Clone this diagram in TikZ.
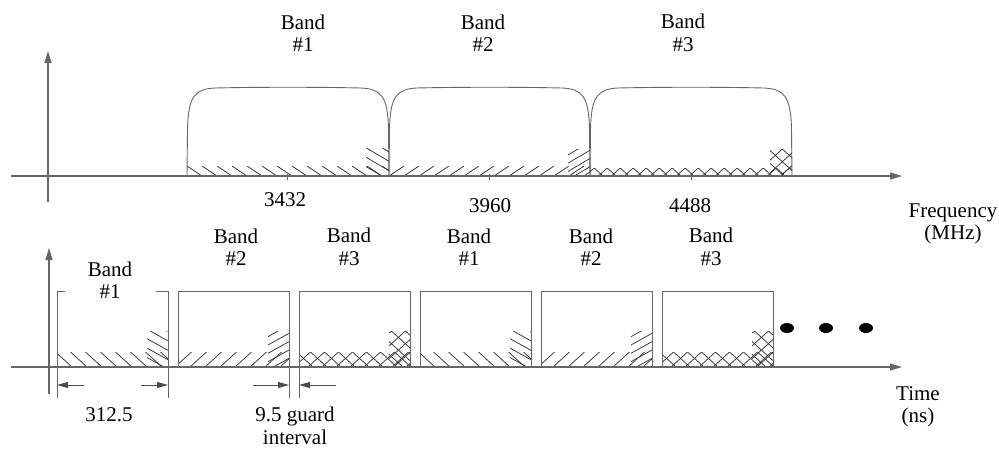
\documentclass[tikz,border=0pt]{standalone}
\usepackage{fontspec}
\setmainfont{Liberation Serif}
\usetikzlibrary{arrows.meta}

\tikzset{
  axisline/.style={draw=black!60, line width=1.1pt},
  frameline/.style={draw=black!60, line width=1pt},
  hatchline/.style={draw=black!80, line width=0.75pt},
  lbl/.style={inner sep=0pt, align=center, text=black,
    font=\fontsize{21}{22.5}\selectfont},
  axisarrow/.style={-{Triangle[length=12pt,width=7pt]}},
  dimarrow/.style={-{Triangle[length=11pt,width=6pt]}, draw=black!70, line width=1pt},
  tickline/.style={draw=black!60, line width=1pt},
}

% parallel hatch lines clipped to a rectangle
% #1 left, #2 top, #3 right, #4 bottom, #5 spacing, #6 dx/dy (>0: "\", <0: "/")
\newcommand{\hatchfill}[6]{%
  \begin{scope}
    \clip (#1,#2) rectangle (#3,#4);
    \pgfmathsetmacro{\hh}{#4-#2}
    \pgfmathsetmacro{\ww}{abs(#6)*\hh}
    \pgfmathtruncatemacro{\nn}{(#3-#1+2*\ww)/#5+1}
    \foreach \i in {0,...,\nn}{
      \pgfmathsetmacro{\uu}{#1-\ww+\i*#5}
      \draw[hatchline] (\uu,#2) -- ++(#6*\hh,\hh);
    }
  \end{scope}}
\newcommand{\crossfill}[5]{%
  \hatchfill{#1}{#2}{#3}{#4}{#5}{1.1}%
  \hatchfill{#1}{#2}{#3}{#4}{#5}{-1.1}}

% hatching of one time slot (left edge #1), by band
\newcommand{\slotA}[1]{%
  \hatchfill{#1}{352}{#1+111}{367}{15}{1.1}%
  \hatchfill{#1+90}{331}{#1+111}{367}{17}{1.8}}
\newcommand{\slotB}[1]{%
  \hatchfill{#1}{352}{#1+111}{367}{15}{-1.1}%
  \hatchfill{#1+90}{331}{#1+111}{367}{15}{-1.8}}
\newcommand{\slotC}[1]{%
  \crossfill{#1}{352}{#1+111}{367}{14}%
  \crossfill{#1+90}{331}{#1+111}{367}{14}}
% closed slot frame with left edge #1
\newcommand{\slotframe}[1]{%
  \draw[frameline] (#1,367) -- (#1,291) -- (#1+111,291) -- (#1+111,367);}

\begin{document}
\begin{tikzpicture}[x=1pt,y=-1pt]
\useasboundingbox (0,0) rectangle (999,448);

% ---------------- frequency plot ----------------
% spectra of the three bands
\foreach \a/\b in {187/389, 389/590, 590/792}{
  \draw[frameline, line width=0.9pt] (\a,176) -- (\a+0.5,130)
    .. controls (\a+1,96) and (\a+8,89) .. (\a+28,88)
    .. controls (\a+70,87) and (\b-70,87) .. (\b-28,88)
    .. controls (\b-8,89) and (\b-1,96) .. (\b-0.5,130) -- (\b,176);
}
\hatchfill{187}{166}{389}{176}{15}{1.5}
\hatchfill{366}{148}{389}{176}{16}{1.7}
\hatchfill{389}{166}{590}{176}{15}{-1.5}
\hatchfill{568}{149}{590}{176}{14}{-1.7}
\crossfill{590}{168}{792}{176}{13}
\crossfill{770}{149}{792}{176}{14}

% axes
\coordinate (fy0) at (48,202);
\coordinate (fy1) at (48,51);
\coordinate (fx0) at (11,176);
\coordinate (fx1) at (902,176);
\draw[axisline, axisarrow] (fy0) -- (fy1);
\draw[axisline, axisarrow] (fx0) -- (fx1);

% centre frequencies
\foreach \c in {287, 489, 691}
  \draw[tickline] (\c,174) -- (\c,180);
\node[lbl] (f1) at (285,200) {3432};
\node[lbl] (f2) at (490,206) {3960};
\node[lbl] (f3) at (690,206) {4488};

\node[lbl] (tb1) at (303,33) {Band\\\#1};
\node[lbl] (tb2) at (483,33) {Band\\\#2};
\node[lbl] (tb3) at (683,33) {Band\\\#3};

\node[lbl] (fq) at (953,224) {Frequency\\(MHz)};

% ---------------- time plot ----------------
\slotA{57}
\slotB{178}
\slotC{299}
\slotA{420}
\slotB{541}
\slotC{662}

% first slot frame is open around its label
\draw[frameline] (65,291) -- (57,291) -- (57,367);
\draw[frameline] (156,291) -- (168,291) -- (168,367);
\slotframe{178}
\slotframe{299}
\slotframe{420}
\slotframe{541}
\slotframe{662}

% axes
\coordinate (ty0) at (49,394);
\coordinate (ty1) at (49,248);
\coordinate (tx0) at (11,367);
\coordinate (tx1) at (902,367);
\draw[axisline, axisarrow] (ty0) -- (ty1);
\draw[axisline, axisarrow] (tx0) -- (tx1);

% continuation dots
\foreach \d in {787, 826, 866}
  \fill[black] (\d,328) ellipse (7pt and 5pt);

\node[lbl] (sb1) at (110,280) {Band\\\#1};
\node[lbl] (sb2) at (236,247) {Band\\\#2};
\node[lbl] (sb3) at (349,247) {Band\\\#3};
\node[lbl] (sb4) at (469,247) {Band\\\#1};
\node[lbl] (sb5) at (591,247) {Band\\\#2};
\node[lbl] (sb6) at (711,247) {Band\\\#3};

\node[lbl] (tm) at (918,407) {Time\\(ns)};

% slot duration and guard interval
\foreach \c in {57, 168, 289, 299}
  \draw[tickline] (\c,367) -- (\c,398);
\coordinate (d1) at (57,385);
\coordinate (d1s) at (84,385);
\coordinate (d2) at (168,385);
\coordinate (d2s) at (141,385);
\coordinate (g1) at (289,385);
\coordinate (g1s) at (253,385);
\coordinate (g2) at (299,385);
\coordinate (g2s) at (336,385);
\draw[dimarrow] (d1s) -- (d1);
\draw[dimarrow] (d2s) -- (d2);
\draw[dimarrow] (g1s) -- (g1);
\draw[dimarrow] (g2s) -- (g2);

\node[lbl] (dur) at (109,415) {312.5};
\node[lbl] (gi) at (295,426) {9.5 guard\\interval};
\end{tikzpicture}
\end{document}
